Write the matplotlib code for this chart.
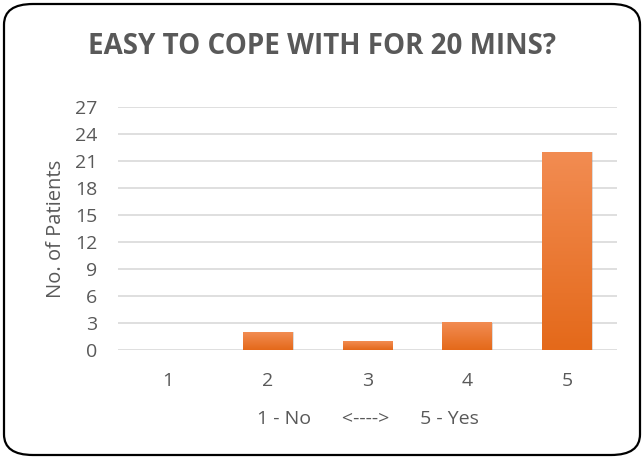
import matplotlib
matplotlib.use("Agg")
import matplotlib.pyplot as plt
import numpy as np
from matplotlib.patches import FancyBboxPatch
from matplotlib.colors import LinearSegmentedColormap

categories = ["1", "2", "3", "4", "5"]
patients = [0, 2, 1, 3, 22]
yticks = list(range(0, 28, 3))

GRID = "#d9d9d9"
TEXT = "#595959"
plt.rcParams.update({"font.family": ["Open Sans", "DejaVu Sans"]})

fig = plt.figure(figsize=(6.44, 4.59), dpi=100)

ax = fig.add_axes([118 / 644, 1 - 350 / 459, 499 / 644, 243 / 459])
ax.set_facecolor("none")
for y in yticks:
    ax.axhline(y, color=GRID, lw=1.2, zorder=1)

cmap = LinearSegmentedColormap.from_list("og", ["#e4691a", "#f28c52"])
grad = np.linspace(0, 1, 256).reshape(-1, 1)
bars = ax.bar(range(len(categories)), patients, width=0.5, color="#ed7d31", zorder=2)
for b in bars:
    h = b.get_height()
    if h <= 0:
        continue
    x0 = b.get_x()
    w = b.get_width()
    # soft shadow
    ax.add_patch(plt.Rectangle((x0 + 0.01, -0.25), w, h + 0.2, color="#9a9a9a",
                               alpha=0.35, lw=0, zorder=1.5))
    ax.imshow(grad, cmap=cmap, extent=(x0, x0 + w, 0, h), origin="lower",
              aspect="auto", zorder=3)
    b.set_alpha(0)

ax.set_xlim(-0.5, len(categories) - 0.5)
ax.set_ylim(0, 27)
ax.set_yticks(yticks)
ax.set_yticklabels([str(t) for t in yticks])
ax.set_xticks(range(len(categories)))
ax.set_xticklabels(categories)
ax.tick_params(length=0, labelsize=14, colors=TEXT)
ax.tick_params(axis="x", pad=16)
ax.tick_params(axis="y", pad=15)
for s in ax.spines.values():
    s.set_visible(False)
ax.set_ylabel("No. of Patients", fontsize=14.5, color=TEXT, labelpad=6)
ax.set_xlabel("1 - No      <---->      5 - Yes", fontsize=14, color=TEXT, labelpad=14)

fig.text(0.5, 1 - 47 / 459, "EASY TO COPE WITH FOR 20 MINS?", ha="center",
         va="center", fontsize=20, fontweight="bold", color=TEXT)

# rounded chart border
fig.patches.append(FancyBboxPatch((4 / 644, 4 / 459), 636 / 644, 451 / 459,
                                  boxstyle="round,pad=0,rounding_size=0.045",
                                  transform=fig.transFigure, facecolor="none",
                                  edgecolor="black", linewidth=1.6, zorder=5))

fig.savefig("out.png", dpi=100, facecolor="white")
